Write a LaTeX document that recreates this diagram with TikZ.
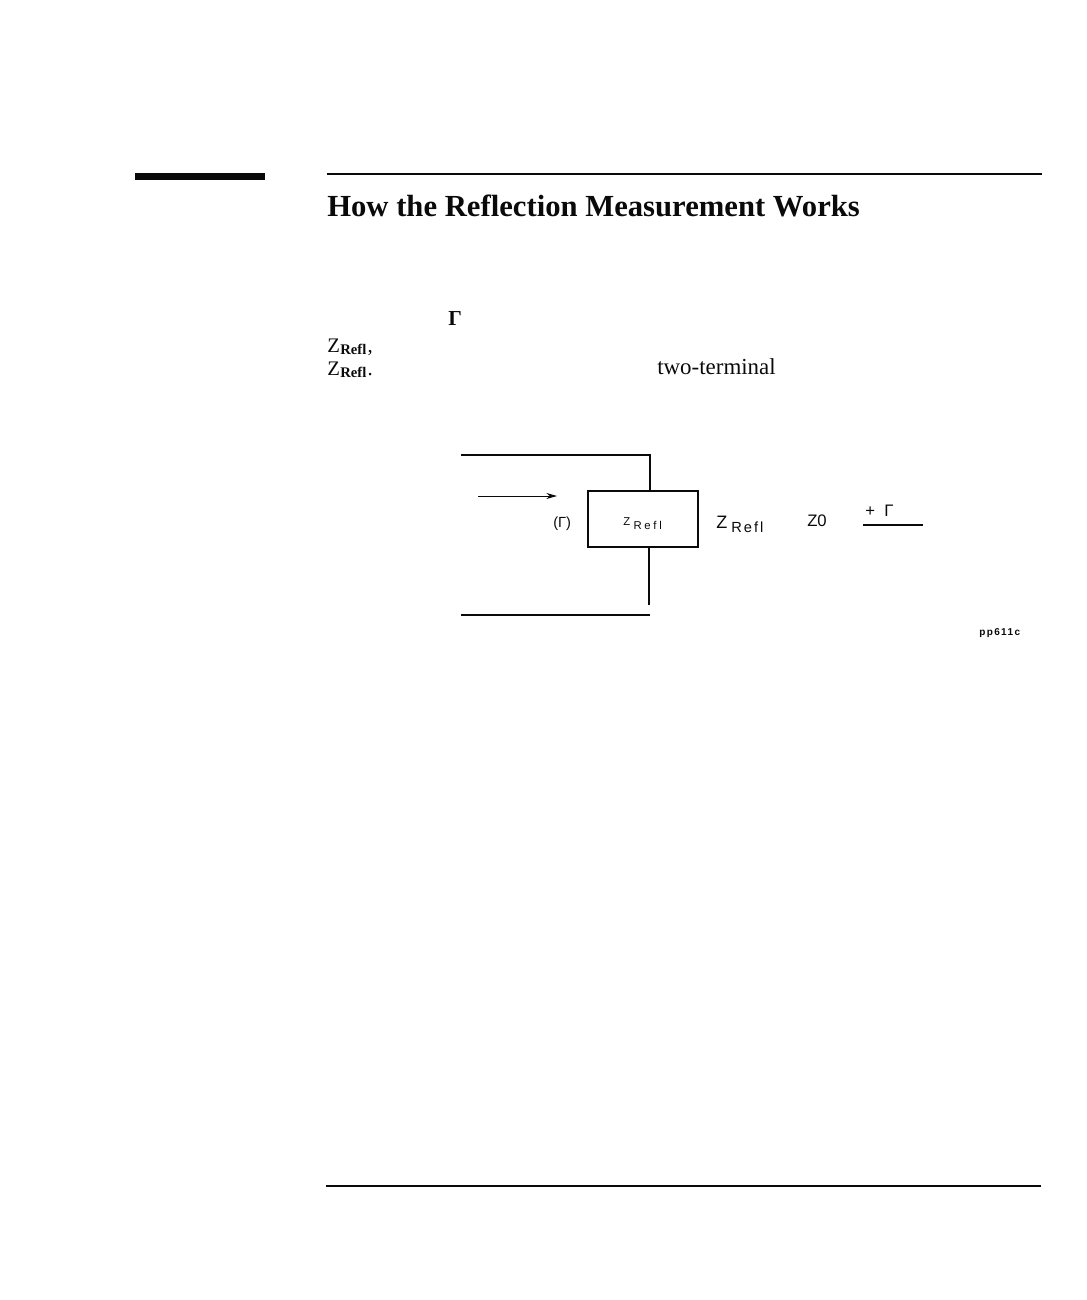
\documentclass[tikz,border=0pt]{standalone}
\usepackage{fontspec}
\setmainfont{Liberation Serif}
\newfontfamily\labelfont{Liberation Sans}
\newfontfamily\spacedfont[LetterSpace=14]{Liberation Sans}
\newfontfamily\widefont[LetterSpace=24]{Liberation Sans}
\usetikzlibrary{arrows.meta,positioning,calc}
\definecolor{ink}{RGB}{10,10,10}
\tikzset{rulebar/.style={ink,line width=#1},
  wire/.style={ink,line width=1.5pt},
  flow/.style={-{Stealth[length=8pt,width=4.5pt]},ink,line width=.7pt},
  pagetext/.style={inner sep=0pt,anchor=base west,text=ink,font=\fontsize{15.5}{17}\selectfont},
  difftext/.style={inner sep=0pt,anchor=base west,text=ink,font=\labelfont\fontsize{12.5}{14}\selectfont}}

\begin{document}
\begin{tikzpicture}[x=.75pt,y=-.75pt]
\useasboundingbox (0,0) rectangle (1086,1300);
% page furniture
\coordinate (tabl) at (135,176.5);
\coordinate (tabr) at (265,176.5);
\coordinate (headl) at (327,174);
\coordinate (headr) at (1042,174);
\coordinate (footl) at (326,1186);
\coordinate (footr) at (1041,1186);
\draw[rulebar=5pt] (tabl)--(tabr);
\draw[rulebar=2.2pt] (headl)--(headr);
\draw[rulebar=1.1pt] (footl)--(footr);
\node[pagetext,font=\bfseries\fontsize{23}{26}\selectfont] (title) at (327,216) {How the Reflection Measurement Works};
% text fragments
\node[pagetext,font=\bfseries\fontsize{16}{18}\selectfont] (gamma) at (448,325) {Γ};
\node[pagetext] (zrefa) at (327,352) {Z\kern.3pt\raisebox{-1.5pt}{\bfseries\fontsize{11}{13}\selectfont Refl}\kern1pt,};
\node[pagetext] (zrefb) at (327,375) {Z\kern.3pt\raisebox{-1.5pt}{\bfseries\fontsize{11}{13}\selectfont Refl}\kern1pt.};
\node[pagetext,font=\fontsize{17.2}{19}\selectfont] (terminal) at (657,374) {two-terminal};
% the load
\node[draw=ink,line width=1.9pt,minimum width=82.5pt,minimum height=42pt,inner sep=0pt] (load) at (643,519) {};
\node[difftext,font=\labelfont\fontsize{8.5}{10}\selectfont] (zname) at (623,525) {Z\kern2.5pt\raisebox{-3.7pt}{\widefont Refl}};
\coordinate (topl) at (461,455);
\coordinate (topr) at (650,455);
\coordinate (stem) at (649,605);
\coordinate (botl) at (461,615);
\coordinate (botr) at (650,615);
\coordinate (arrl) at (478,496);
\coordinate (arrr) at (557,496);
\draw[wire] (topl)--(topr)--(topr|-load.north);
\draw[wire] (stem|-load.south)--(stem);
\draw[wire] (botl)--(botr);
\draw[flow] (arrl)--(arrr);
% labels round the load
\node[difftext,font=\labelfont\fontsize{11}{13}\selectfont] (refl) at (553,527) {(Γ)};
\node[difftext,font=\labelfont\fontsize{13.5}{15}\selectfont] (zleft) at (716,528) {Z\kern3pt\raisebox{-3.7pt}{\fontsize{11}{13}\spacedfont Refl}};
\node[difftext] (zzero) at (807,526) {Z0};
\node[difftext] (plus) at (865,516) {+\kern7pt Γ};
\coordinate (fracl) at (863,525);
\coordinate (fracr) at (923,525);
\draw[ink,line width=1pt] (fracl)--(fracr);
\node[difftext,font=\fontsize{7.5}{9}\selectfont] (figid) at (979,635) {\spacedfont\bfseries pp611c};
\end{tikzpicture}
\end{document}
